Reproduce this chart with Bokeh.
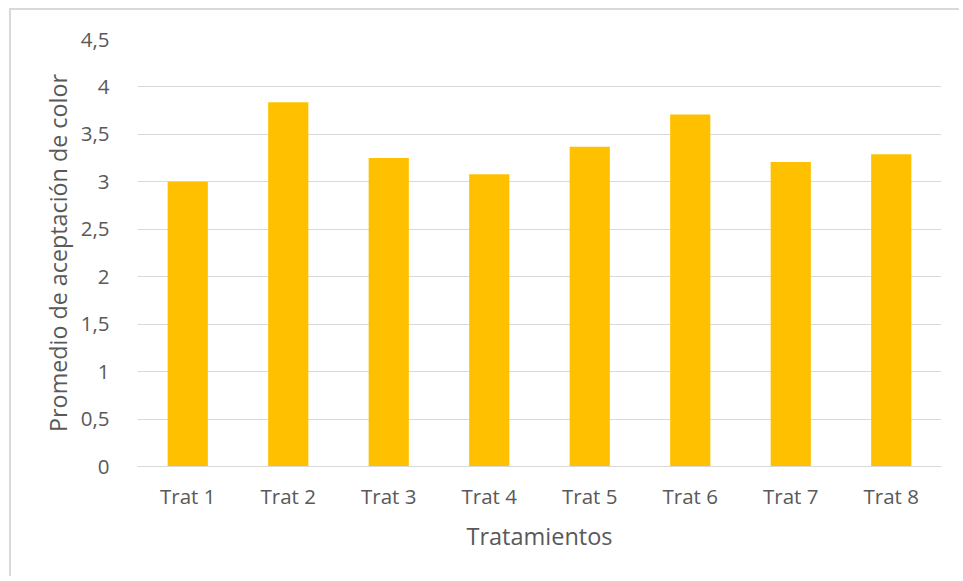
from bokeh.plotting import figure
from bokeh.models import FactorRange, Range1d, FixedTicker, CustomJSTickFormatter
from bokeh.embed import file_html
from bokeh.resources import INLINE

categories = ["Trat 1", "Trat 2", "Trat 3", "Trat 4", "Trat 5", "Trat 6", "Trat 7", "Trat 8"]
values = [3.00, 3.84, 3.25, 3.08, 3.37, 3.71, 3.21, 3.29]
y_ticks = [0, 0.5, 1, 1.5, 2, 2.5, 3, 3.5, 4, 4.5]

FONT = "Open Sans"
TXT = "#595959"
GRID = "#d9d9d9"

p = figure(x_range=FactorRange(*categories, range_padding=0), y_range=Range1d(0, 4.5),
           width=950, height=568, output_backend="svg", toolbar_location=None,
           min_border_left=126, min_border_right=20, min_border_top=29, min_border_bottom=112)
p.styles = {"border-left": "2px solid #d9d9d9", "border-top": "2px solid #d9d9d9",
            "margin-left": "9px", "margin-top": "8px"}
p.outline_line_color = None

p.vbar(x=categories, top=values, width=0.4, color="#FFC000", line_color=None)

p.xgrid.grid_line_color = None
p.ygrid.grid_line_color = GRID
p.ygrid.grid_line_width = 1
p.yaxis.ticker = FixedTicker(ticks=y_ticks)
p.yaxis.formatter = CustomJSTickFormatter(code="return tick.toString().replace('.', ',');")

for ax in (p.xaxis[0], p.yaxis[0]):
    ax.major_tick_line_color = None
    ax.minor_tick_line_color = None
    ax.major_label_text_font = FONT
    ax.major_label_text_color = TXT
    ax.major_label_text_font_size = "20.5px"
    ax.axis_label_text_font = FONT
    ax.axis_label_text_color = TXT
    ax.axis_label_text_font_style = "normal"

p.xaxis.axis_label_text_font_size = "23.5px"
p.yaxis.axis_label_text_font_size = "23.3px"
p.yaxis.axis_line_color = None
p.xaxis.axis_line_color = GRID
p.yaxis.major_label_standoff = 22
p.xaxis.major_label_standoff = 9
p.yaxis.axis_label = "Promedio de aceptación de color"
p.xaxis.axis_label = "Tratamientos"
p.yaxis.axis_label_standoff = 4
p.xaxis.axis_label_standoff = 7

open("out.html", "w").write(file_html(p, INLINE))
